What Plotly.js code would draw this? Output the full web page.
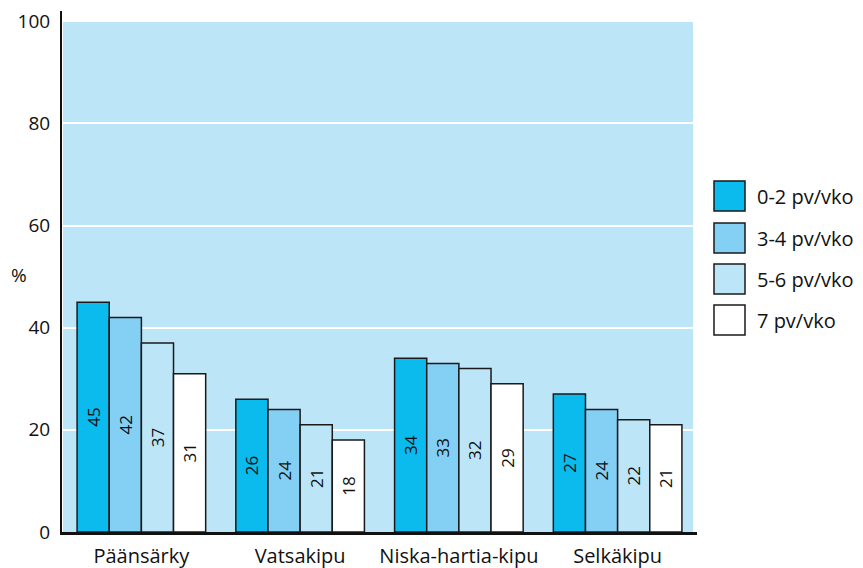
<!DOCTYPE html>
<html>
<head>
<meta charset="utf-8">
<script src="https://cdn.plot.ly/plotly-3.0.1.min.js"></script>
<style>html,body{margin:0;padding:0;background:#fff;}#chart{width:863px;height:568px;}</style>
</head>
<body>
<div id="chart"></div>
<script>
const categories = ["Päänsärky", "Vatsakipu", "Niska-hartia-kipu", "Selkäkipu"];
const seriesNames = ["0-2 pv/vko", "3-4 pv/vko", "5-6 pv/vko", "7 pv/vko"];
const s02 = [45, 26, 34, 27];
const s34 = [42, 24, 33, 24];
const s56 = [37, 21, 32, 22];
const s7  = [31, 18, 29, 21];
const yTicks = [0, 20, 40, 60, 80, 100];

const colors = ["#0bbbee", "#84d0f4", "#bde5f8", "#ffffff"];
const bgColor = "#bde5f8";
const FONT = "Open Sans, sans-serif";

const W = 863, H = 568;
const L = 62, R = 697, T = 11, B = 532;

const allSeries = [s02, s34, s56, s7];
const traces = allSeries.map((vals, i) => ({
  type: "bar",
  name: seriesNames[i],
  x: categories,
  y: vals,
  text: vals.map(v => String(v)),
  textposition: "inside",
  insidetextanchor: "middle",
  textangle: -90,
  textfont: {family: FONT, size: 17, color: "#111"},
  constraintext: "none",
  marker: {color: colors[i], line: {color: "#1a1a1a", width: 1.5}},
  hoverinfo: "none",
  showlegend: false
}));

function px(x) { return (x - L) / (R - L); }
function py(y) { return (B - y) / (B - T); }

const shapes = [{
  type: "rect", layer: "below", xref: "paper", yref: "y",
  x0: px(63), x1: px(693), y0: 0, y1: 100,
  fillcolor: bgColor, line: {width: 0}
}];
const annotations = [{
  xref: "paper", yref: "paper", x: px(19), y: py(275),
  text: "%", showarrow: false, font: {family: FONT, size: 19, color: "#111"},
  xanchor: "center", yanchor: "middle"
}];
const legTop = [181, 223, 264, 305];
seriesNames.forEach((name, i) => {
  shapes.push({
    type: "rect", xref: "paper", yref: "paper",
    x0: px(714), x1: px(745), y0: py(legTop[i]), y1: py(legTop[i] + 30),
    fillcolor: colors[i], line: {color: "#1a1a1a", width: 1.5}
  });
  annotations.push({
    xref: "paper", yref: "paper", x: px(755), y: py(legTop[i] + 15),
    text: name, showarrow: false, xanchor: "left", yanchor: "middle",
    font: {family: FONT, size: 20, color: "#111"}
  });
});

const layout = {
  width: W, height: H,
  margin: {l: L, r: W - R, t: T, b: H - B, pad: 0},
  paper_bgcolor: "#ffffff",
  plot_bgcolor: "#ffffff",
  barmode: "group",
  bargap: 0.19,
  bargroupgap: 0,
  showlegend: false,
  font: {family: FONT, color: "#111"},
  xaxis: {
    type: "category",
    range: [-0.5, 3.5],
    showline: true, linecolor: "#111", linewidth: 2.5,
    ticks: "", showgrid: false, zeroline: false,
    tickfont: {family: FONT, size: 20, color: "#111"},
    ticklabelstandoff: 4,
    fixedrange: true
  },
  yaxis: {
    range: [0, 102],
    tickvals: yTicks,
    ticktext: yTicks.map(String),
    showline: true, linecolor: "#111", linewidth: 2,
    ticks: "", showgrid: true, gridcolor: "#ffffff", gridwidth: 2,
    zeroline: false,
    tickfont: {family: FONT, size: 19, color: "#111"},
    ticklabelstandoff: 6,
    fixedrange: true
  },
  shapes: shapes,
  annotations: annotations
};

Plotly.newPlot("chart", traces, layout, {displayModeBar: false, staticPlot: true});
</script>
</body>
</html>
